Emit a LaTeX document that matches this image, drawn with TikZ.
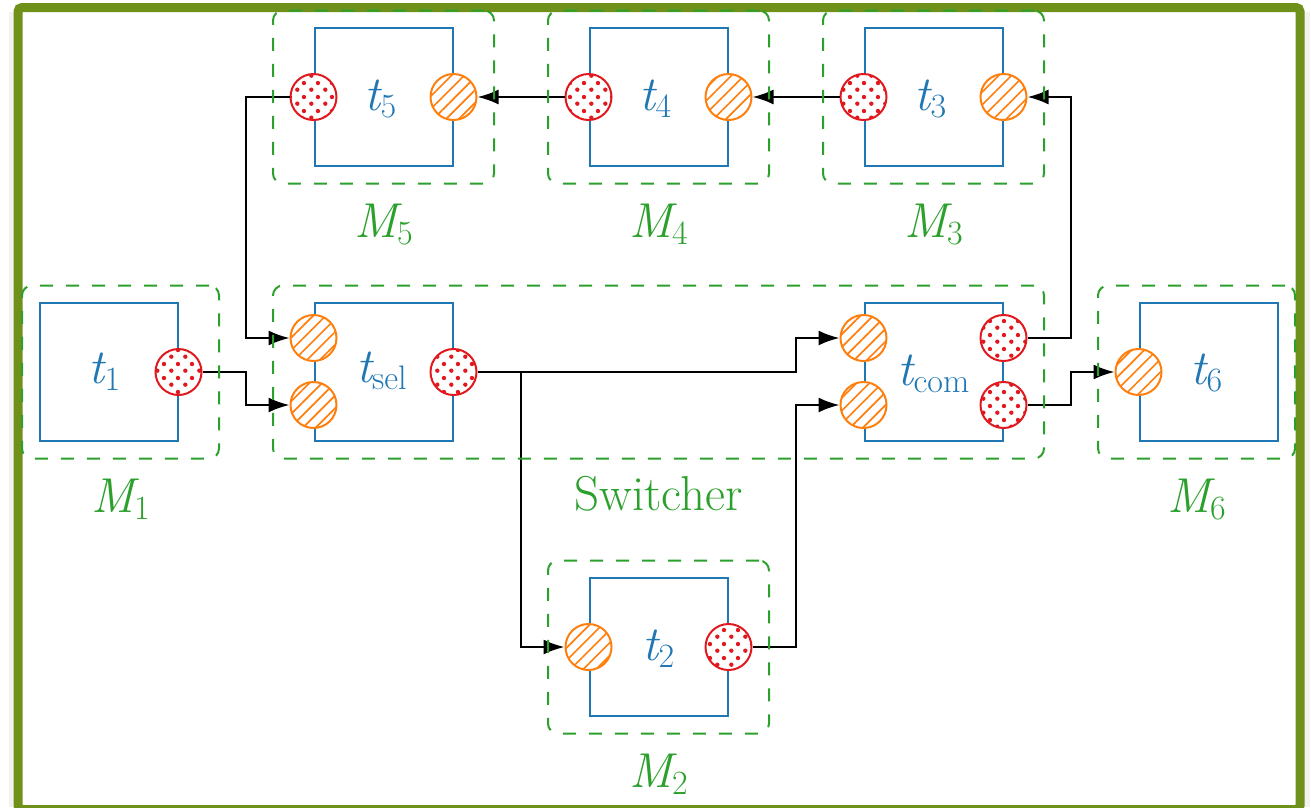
\documentclass[tikz,border=0pt]{standalone}
\usetikzlibrary{arrows.meta,patterns,patterns.meta,fit,calc}
\definecolor{frameol}{RGB}{111,145,26}
\definecolor{tblue}{RGB}{31,119,180}
\definecolor{tgreen}{RGB}{44,160,44}
\definecolor{torange}{RGB}{255,127,14}
\definecolor{tred}{RGB}{225,25,30}
\pgfdeclarepatternformonly{bigdots}{\pgfqpoint{0pt}{0pt}}{\pgfqpoint{14pt}{14pt}}{\pgfqpoint{14pt}{14pt}}{%
  \pgfpathcircle{\pgfqpoint{3.5pt}{3.5pt}}{2.3pt}%
  \pgfpathcircle{\pgfqpoint{10.5pt}{10.5pt}}{2.3pt}%
  \pgfusepath{fill}}
\newcommand{\varsub}[2]{{\itshape #1}\raisebox{-0.15em}{\fontsize{34}{38}\selectfont #2}}
\tikzset{
  task/.style={draw=tblue, line width=2, minimum width=138, minimum height=138, inner sep=0},
  inport/.style={circle, draw=torange, line width=2, minimum size=46, inner sep=0,
    preaction={fill=white}, pattern={Lines[angle=45,distance=9pt,line width=1.7pt]}, pattern color=torange},
  outport/.style={circle, draw=tred, line width=2, minimum size=46, inner sep=0,
    preaction={fill=white}, pattern=bigdots, pattern color=tred},
  module/.style={draw=tgreen, dash pattern=on 13pt off 13pt, line width=2, rounded corners=10, inner sep=16.5},
  conn/.style={draw=black, line width=2.2, -{Latex[length=21pt,width=15pt]}},
  tlabel/.style={text=tblue, anchor=base, inner sep=0, font=\fontsize{49}{56}\selectfont},
  mlabel/.style={text=tgreen, anchor=base, inner sep=0, font=\fontsize{49}{56}\selectfont},
}
\begin{document}
\begin{tikzpicture}[x=1pt,y=-1pt]
\useasboundingbox (0,0) rectangle (1311,807);
% frame
\fill[black!5] (9,12) rectangle (14,807);
\fill[black!5] (1304,12) rectangle (1310,807);
\draw[frameol, line width=9, rounded corners=4] (18,7.5) rectangle (1300,809.5);

% tasks
\node[task] (r1) at (108.5,372) {};
\node[task] (rsel) at (383.5,372) {};
\node[task] (rcom) at (933.5,372) {};
\node[task] (r6) at (1208.5,372) {};
\node[task] (r5) at (383.5,97) {};
\node[task] (r4) at (658.5,97) {};
\node[task] (r3) at (933.5,97) {};
\node[task] (r2) at (658.5,647) {};

% task labels
\node[tlabel] (l1) at ($(r1.center)+(-4,11)$) {\varsub{t}{1}};
\node[tlabel] (lsel) at ($(rsel.center)+(-2,10)$) {\varsub{t}{sel}};
\node[tlabel] (lcom) at ($(rcom.center)+(0,13)$) {\varsub{t}{com}};
\node[tlabel] (l6) at ($(r6.center)+(-2,12)$) {\varsub{t}{6}};
\node[tlabel] (l5) at ($(r5.center)+(-3,13)$) {\varsub{t}{5}};
\node[tlabel] (l4) at ($(r4.center)+(-3,13)$) {\varsub{t}{4}};
\node[tlabel] (l3) at ($(r3.center)+(-3,13)$) {\varsub{t}{3}};
\node[tlabel] (l2) at ($(r2.center)+(0,13)$) {\varsub{t}{2}};

% ports
\node[outport] (p1o) at (r1.east) {};
\node[inport] (psel1) at ($(rsel.west)+(0,-34)$) {};
\node[inport] (psel2) at ($(rsel.west)+(0,33)$) {};
\node[outport] (pselo) at (rsel.east) {};
\node[inport] (pcom1) at ($(rcom.west)+(0,-34)$) {};
\node[inport] (pcom2) at ($(rcom.west)+(0,33)$) {};
\node[outport] (pcomo1) at ($(rcom.east)+(0,-34)$) {};
\node[outport] (pcomo2) at ($(rcom.east)+(0,33)$) {};
\node[inport] (p6i) at (r6.west) {};
\node[outport] (p5o) at (r5.west) {};
\node[inport] (p5i) at (r5.east) {};
\node[outport] (p4o) at (r4.west) {};
\node[inport] (p4i) at (r4.east) {};
\node[outport] (p3o) at (r3.west) {};
\node[inport] (p3i) at (r3.east) {};
\node[inport] (p2i) at (r2.west) {};
\node[outport] (p2o) at (r2.east) {};

% bend coordinates
\coordinate (b1) at ($(p1o.east)!0.5!(psel2.west)$);
\coordinate (b2) at ($(p2o.east)!0.5!(pcom2.west)$);
\coordinate (b3) at ($(pselo.east)!0.5!(p2i.west)$);
\coordinate (b4) at ($(pcomo2.east)!0.5!(p6i.west)$);

% connectors
\draw[conn] (p1o.east) -| (b1 |- psel2.west) -- (psel2.west);
\draw[conn] (p5o.west) -| (b1 |- psel1.west) -- (psel1.west);
\draw[conn] (pselo.east) -| (b2 |- pcom1.west) -- (pcom1.west);
\draw[conn] (pselo.east) -| (b3 |- p2i.west) -- (p2i.west);
\draw[conn] (p2o.east) -| (b2 |- pcom2.west) -- (pcom2.west);
\draw[conn] (pcomo2.east) -| (b4 |- p6i.west) -- (p6i.west);
\draw[conn] (pcomo1.east) -| (b4 |- p3i.east) -- (p3i.east);
\draw[conn] (p3o.west) -- (p4i.east);
\draw[conn] (p4o.west) -- (p5i.east);

% modules
\node[module, fit=(r1)(p1o)] (m1) {};
\node[module, fit=(rsel)(psel1)(psel2)(pselo)(rcom)(pcomo1)(pcomo2)] (msw) {};
\node[module, fit=(r6)(p6i)] (m6) {};
\node[module, fit=(r5)(p5o)(p5i)] (m5) {};
\node[module, fit=(r4)(p4o)(p4i)] (m4) {};
\node[module, fit=(r3)(p3o)(p3i)] (m3) {};
\node[module, fit=(r2)(p2o)(p2i)] (m2) {};

% module labels
\node[mlabel] (lm1) at ($(m1.south)+(0,53)$) {\varsub{M}{1}};
\node[mlabel] (lmsw) at ($(msw.south)+(0,51)$) {Switcher};
\node[mlabel] (lm6) at ($(m6.south)+(0,53)$) {\varsub{M}{6}};
\node[mlabel] (lm5) at ($(m5.south)+(0,53)$) {\varsub{M}{5}};
\node[mlabel] (lm4) at ($(m4.south)+(0,53)$) {\varsub{M}{4}};
\node[mlabel] (lm3) at ($(m3.south)+(0,53)$) {\varsub{M}{3}};
\node[mlabel] (lm2) at ($(m2.south)+(0,53)$) {\varsub{M}{2}};
\end{tikzpicture}
\end{document}
